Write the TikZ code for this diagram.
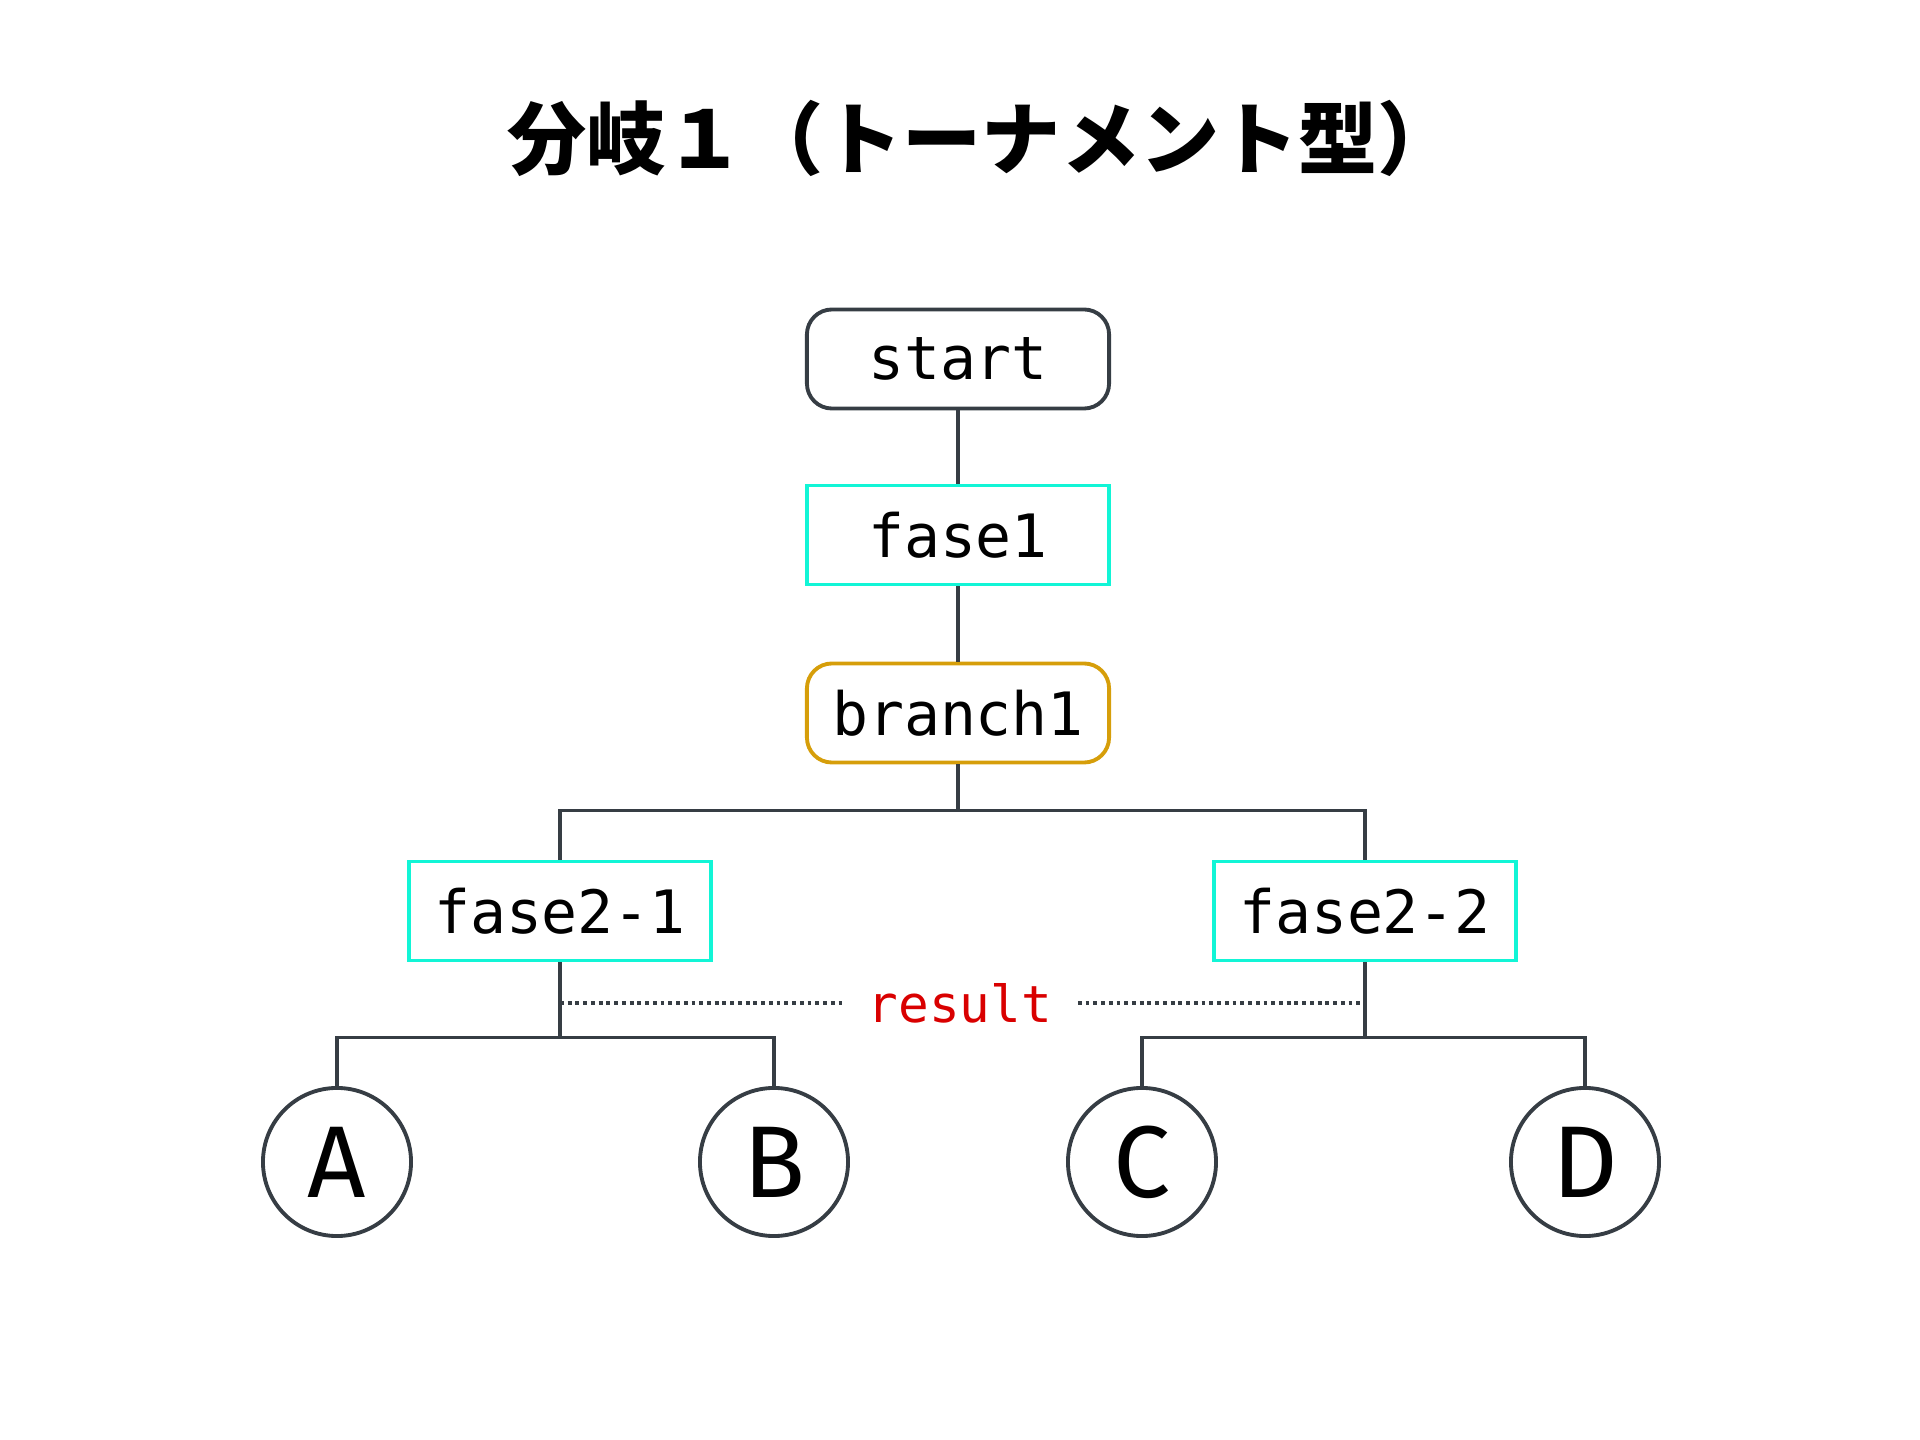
\documentclass[tikz,border=0pt]{standalone}
\usepackage{fontspec}
\setmonofont{DejaVu Sans Mono}
\setsansfont{Fira Sans}
\newfontfamily\cjk{Noto Sans CJK JP}
\usetikzlibrary{positioning}

\definecolor{linegray}{HTML}{363D44}
\definecolor{fasecyan}{HTML}{12F5D6}
\definecolor{branchgold}{HTML}{D69E0A}
\definecolor{resultred}{HTML}{D90000}

\tikzset{
  edge/.style={draw=linegray, line width=1.1pt},
  dotline/.style={draw=linegray, line width=1.1pt, dash pattern=on 1.1pt off 1.1pt},
  startbox/.style={draw=linegray, line width=1.1pt, rounded corners=0.25cm, minimum width=3.02cm, minimum height=0.99cm, font=\ttfamily\fontsize{17}{20}\selectfont},
  fasebox/.style={draw=fasecyan, line width=1.1pt, minimum width=3.02cm, minimum height=0.99cm, font=\ttfamily\fontsize{17}{20}\selectfont},
  branchbox/.style={draw=branchgold, line width=1.1pt, rounded corners=0.25cm, minimum width=3.02cm, minimum height=0.99cm, font=\ttfamily\fontsize{17}{20}\selectfont},
  leaf/.style={draw=linegray, line width=1.1pt, circle, minimum size=1.48cm, inner sep=0pt, font=\sffamily\fontsize{29}{32}\selectfont},
  resultlabel/.style={text=resultred, inner sep=0.25cm, font=\ttfamily\fontsize{14.5}{17}\selectfont}
}

\begin{document}
\begin{tikzpicture}[x=0.01cm, y=-0.01cm]
  \useasboundingbox (0,0) rectangle (1920,1440);

  % title
  \node (title) at (982,138) {\cjk\bfseries\fontsize{22.5}{26}\selectfont 分岐１（トーナメント型）};

  % main line
  \node[startbox] (start) at (958,359) {start};
  \node[fasebox] (fase1) at (958,535) {fase1};
  \node[branchbox] (branch1) at (958,713) {branch1};

  % second phase
  \node[fasebox] (fase21) at (560,911) {fase2-1};
  \node[fasebox] (fase22) at (1365,911) {fase2-2};

  % leaves
  \node[leaf] (A) at (337,1162) {A};
  \node[leaf] (B) at (774,1162) {B};
  \node[leaf] (C) at (1142,1162) {C};
  \node[leaf] (D) at (1585,1162) {D};

  \node[resultlabel] (result) at (960,1003) {result};

  \draw[edge] (start) -- (fase1);
  \draw[edge] (fase1) -- (branch1);
  \draw[edge] (branch1.south) -- ++(0,46) coordinate (split) -| (fase21.north);
  \draw[edge] (split) -| (fase22.north);
  \draw[edge] (fase21.south) -- ++(0,75) coordinate (splitl) -| (A.north);
  \draw[edge] (splitl) -| (B.north);
  \draw[edge] (fase22.south) -- ++(0,75) coordinate (splitr) -| (C.north);
  \draw[edge] (splitr) -| (D.north);

  \draw[dotline] (fase21.south |- result) -- (result.west);
  \draw[dotline] (result.east) -- (fase22.south |- result);
\end{tikzpicture}
\end{document}
